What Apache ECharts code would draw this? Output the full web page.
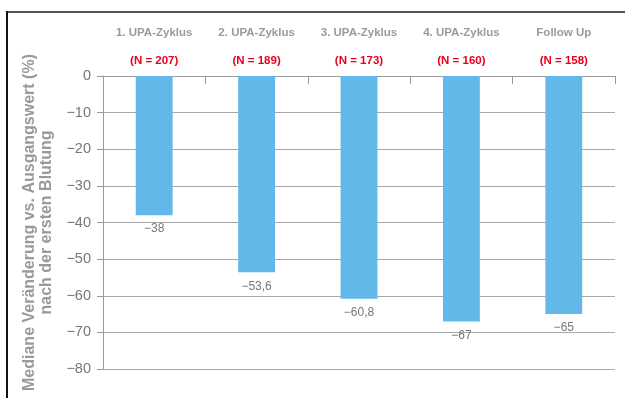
<!DOCTYPE html>
<html>
<head>
<meta charset="utf-8">
<script src="https://cdn.jsdelivr.net/npm/echarts@6/dist/echarts.min.js"></script>
<style>
  html, body { margin: 0; padding: 0; background: #fff; }
  #chart { width: 625px; height: 398px; }
</style>
</head>
<body>
<div id="chart"></div>
<script>
// Treatment phases and their sample sizes
const categories = ['1. UPA-Zyklus', '2. UPA-Zyklus', '3. UPA-Zyklus', '4. UPA-Zyklus', 'Follow Up'];
const sampleSizes = [207, 189, 173, 160, 158];
// Median change vs. baseline (%) after the first bleeding
const medianChange = [-38, -53.6, -60.8, -67, -65];
// Value axis range
const yMin = -80;
const yMax = 0;
const yStep = 10;

const FONT = "'Liberation Sans', Arial, Helvetica, sans-serif";
const minus = s => String(s).replace('-', '\u2212');

const chart = echarts.init(document.getElementById('chart'));

chart.setOption({
  animation: false,
  backgroundColor: '#fff',
  textStyle: { fontFamily: FONT },
  grid: { left: 103, right: 10, top: 76, bottom: 29, containLabel: false },
  xAxis: [
    {
      type: 'category',
      data: categories,
      position: 'bottom',
      axisLine: { show: true, lineStyle: { color: '#9a9a9a', width: 1 } },
      axisTick: { show: true, length: 8, lineStyle: { color: '#9a9a9a', width: 1 } },
      axisLabel: { show: false },
      splitLine: { show: false }
    },
    {
      type: 'category',
      data: categories,
      position: 'top',
      axisLine: { show: false },
      axisTick: { show: false },
      axisLabel: {
        interval: 0,
        margin: 8,
        formatter: (value, idx) => '{a|' + value + '}\n{b|(N = ' + sampleSizes[idx] + ')}',
        rich: {
          a: { fontFamily: FONT, fontSize: 11.5, fontWeight: 'bold', color: '#9a9a9a', lineHeight: 42 },
          b: { fontFamily: FONT, fontSize: 11.5, fontWeight: 'bold', color: '#e8001c', lineHeight: 14 }
        }
      }
    }
  ],
  yAxis: {
    type: 'value',
    min: yMin,
    max: yMax,
    interval: yStep,
    name: 'Mediane Veränderung vs. Ausgangswert (%)\nnach der ersten Blutung',
    nameLocation: 'middle',
    nameRotate: 90,
    nameGap: 47,
    nameTextStyle: {
      fontFamily: FONT, fontSize: 16, fontWeight: 'bold', color: '#9a9a9a',
      lineHeight: 17, align: 'center'
    },
    axisLine: { show: true, lineStyle: { color: '#9a9a9a', width: 1 } },
    axisTick: { show: true, length: 6, lineStyle: { color: '#9a9a9a', width: 1 } },
    axisLabel: {
      margin: 12,
      fontFamily: FONT,
      fontSize: 14.5,
      color: '#777',
      formatter: v => minus(v)
    },
    splitLine: { show: true, lineStyle: { color: '#a8a8a8', width: 1 } }
  },
  series: [
    {
      type: 'bar',
      xAxisIndex: 0,
      data: medianChange,
      barWidth: '36%',
      itemStyle: { color: '#63b8e9' },
      label: {
        show: true,
        position: 'bottom',
        distance: 8,
        fontFamily: FONT,
        fontSize: 12,
        color: '#777',
        formatter: p => minus(String(p.value).replace('.', ','))
      }
    }
  ],
  graphic: [
    {
      type: 'line',
      shape: { x1: 6, y1: 12, x2: 625, y2: 12 },
      style: { stroke: '#555', lineWidth: 2 }
    },
    {
      type: 'line',
      shape: { x1: 7, y1: 11, x2: 7, y2: 398 },
      style: { stroke: '#111', lineWidth: 2 }
    }
  ]
});
</script>
</body>
</html>
